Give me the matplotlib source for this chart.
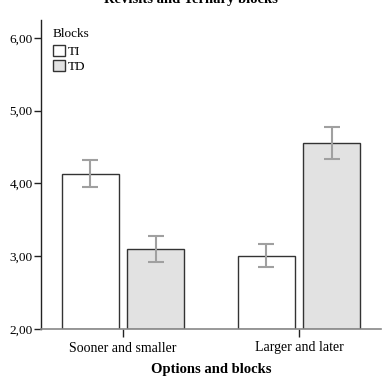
import matplotlib
matplotlib.use("Agg")
import matplotlib.pyplot as plt
import numpy as np
from matplotlib.patches import Patch
from matplotlib.ticker import FuncFormatter

options = ["Sooner and smaller", "Larger and later"]
blocks = ["TI", "TD"]
means_ti = [4.13, 3.00]
means_td = [3.10, 4.55]
lower_ti = [3.95, 2.85]
upper_ti = [4.32, 3.17]
lower_td = [2.92, 4.33]
upper_td = [3.28, 4.78]
yticks = [2, 3, 4, 5, 6]

plt.rcParams["font.family"] = ["Liberation Serif", "DejaVu Serif"]

fig = plt.figure(figsize=(3.82, 3.81), dpi=100)
ax = fig.add_axes([41 / 382, 1 - 329 / 381, 340 / 382, 309 / 381])

x = np.arange(len(options))
off = 0.185
w = 0.32
edge = "#333333"
err_col = "#a0a0a0"

for xs, m, lo, hi, fc in [(x - off, means_ti, lower_ti, upper_ti, "white"),
                          (x + off, means_td, lower_td, upper_td, "#e2e2e2")]:
    ax.bar(xs, np.array(m) - 2, bottom=2, width=w, color=fc, edgecolor=edge, linewidth=1.0, zorder=2)
    yerr = [np.array(m) - np.array(lo), np.array(hi) - np.array(m)]
    ax.errorbar(xs, m, yerr=yerr, fmt="none", ecolor=err_col, elinewidth=1.5,
                capsize=6, capthick=1.5, zorder=3)

ax.set_xlim(-0.466, 1.466)
ax.set_ylim(2, 6.247)
ax.set_xticks(x)
ax.set_xticklabels(options, fontsize=10)
ax.set_yticks(yticks)
ax.yaxis.set_major_formatter(FuncFormatter(lambda v, p: f"{v:.2f}".replace(".", ",")))
ax.tick_params(axis="y", labelsize=9.5, length=5, width=1, color="#222222", pad=1)
ax.tick_params(axis="x", length=6, width=1, color="#222222", pad=3)

for s in ["top", "right"]:
    ax.spines[s].set_visible(False)
ax.spines["left"].set_color("#222222")
ax.spines["bottom"].set_color("#888888")
ax.spines["left"].set_linewidth(1)
ax.spines["bottom"].set_linewidth(1.2)

ax.set_xlabel("Options and blocks", fontsize=10.5, fontweight="bold", labelpad=6)

handles = [Patch(facecolor="white", edgecolor=edge, label=blocks[0]),
           Patch(facecolor="#e2e2e2", edgecolor=edge, label=blocks[1])]
leg = ax.legend(handles=handles, title="Blocks", loc="upper left",
                bbox_to_anchor=(0.012, 1.0), frameon=False, fontsize=9.5,
                title_fontsize=9.5, handlelength=0.9, handleheight=0.9,
                handletextpad=0.25, labelspacing=0.1, borderpad=0.2,
                borderaxespad=0.4)
leg._legend_box.align = "left"
leg._legend_box.sep = 4

fig.text(0.5, 1 - 3 / 381, "Revisits and Ternary blocks", ha="center", va="baseline",
         fontsize=10.5, fontweight="bold")
fig.text(3 / 382, 0.54, "Mean of Revisits", rotation=90, ha="right", va="center", fontsize=10)

fig.savefig("out.png", dpi=100)
